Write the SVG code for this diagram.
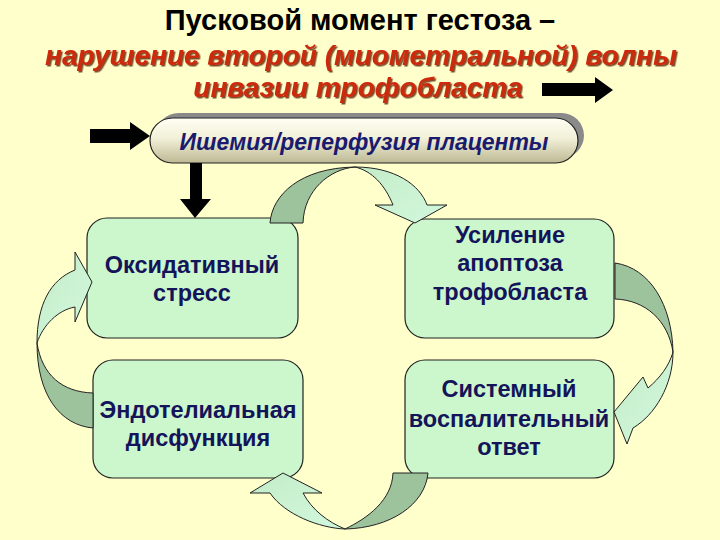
<svg xmlns="http://www.w3.org/2000/svg" width="720" height="540" viewBox="0 0 720 540">
<defs>
<style>
.title{font-family:"Liberation Sans",Arial,sans-serif;font-weight:bold;font-size:29px;fill:#000;text-anchor:middle}
.red{font-family:"Liberation Sans",Arial,sans-serif;font-weight:bold;font-style:italic;font-size:28px;fill:#CC2a10;text-anchor:middle;filter:url(#sh)}
.pilltxt{font-family:"Liberation Sans",Arial,sans-serif;font-weight:bold;font-style:italic;font-size:23px;fill:#1a1a6e;text-anchor:middle}
.box{fill:#CCF7CC;stroke:#222;stroke-width:1.2}
.bt{font-family:"Liberation Sans",Arial,sans-serif;font-weight:bold;font-size:23.5px;fill:#14145a;text-anchor:middle}
.blk{fill:#000}
.dk{fill:#9DC39D;stroke:#222;stroke-width:1}
.lt{fill:url(#lg);stroke:#222;stroke-width:1}
</style>
<filter id="sh" x="-5%" y="-20%" width="110%" height="150%">
<feDropShadow dx="1.5" dy="1.5" stdDeviation="0.6" flood-color="#5a2000" flood-opacity="0.8"/>
</filter>
<linearGradient id="pillg" x1="0" y1="0" x2="0" y2="1">
<stop offset="0" stop-color="#FFFFF4"/>
<stop offset="0.45" stop-color="#F2F0D8"/>
<stop offset="1" stop-color="#BDB994"/>
</linearGradient>
<linearGradient id="lg" x1="0" y1="0" x2="1" y2="1">
<stop offset="0" stop-color="#C4ECC8"/>
<stop offset="1" stop-color="#D2F8DC"/>
</linearGradient>
</defs>
<rect x="0" y="0" width="720" height="540" fill="#FFFFCC"/>

<g id="title">
<text class="title" x="360" y="30">Пусковой момент гестоза –</text>
<text class="red" x="361" y="65">нарушение второй (миометральной) волны</text>
<text class="red" x="358" y="97">инвазии трофобласта</text>
</g>

<g id="pill">
<rect x="156" y="113" width="428" height="45" rx="22.5" fill="#8a8a8a"/>
<rect x="150" y="118" width="428" height="45" rx="22.5" fill="url(#pillg)" stroke="#222" stroke-width="1.2"/>
<text class="pilltxt" x="364" y="150">Ишемия/реперфузия плаценты</text>
</g>

<g id="box1">
<rect class="box" x="87" y="218" width="211" height="120" rx="20"/>
<text class="bt" x="192" y="273">Оксидативный</text>
<text class="bt" x="192" y="301">стресс</text>
</g>
<g id="box2">
<rect class="box" x="405" y="219" width="209" height="119" rx="20"/>
<text class="bt" x="510" y="243">Усиление</text>
<text class="bt" x="510" y="271">апоптоза</text>
<text class="bt" x="510" y="300">трофобласта</text>
</g>
<g id="box3">
<rect class="box" x="93" y="360" width="210" height="118" rx="20"/>
<text class="bt" x="198" y="418">Эндотелиальная</text>
<text class="bt" x="198" y="446">дисфункция</text>
</g>
<g id="box4">
<rect class="box" x="405" y="360" width="209" height="118" rx="20"/>
<text class="bt" x="509" y="397">Системный</text>
<text class="bt" x="509" y="427">воспалительный</text>
<text class="bt" x="509" y="455">ответ</text>
</g>

<g id="connectors">
<path class="blk" d="M542,83 L595,83 L595,77 L613,90 L595,103 L595,96 L542,96 Z"/>
<path class="blk" d="M90,129 L130,129 L130,122 L150,136 L130,150 L130,143 L90,143 Z"/>
<path class="blk" d="M190,163 L202,163 L202,199 L211,199 L195,218 L180,199 L190,199 Z"/>
<path class="dk" d="M270,223 C272,195 300,168 355,167 C330,169 304,190 303,223 Z"/>
<path class="lt" d="M355,167 C395,167 420,185 427,205 L447,205 L415,223 L375,205 L393,205 C385,185 372,171 355,167 Z"/>
<path class="dk" d="M615,263 C650,268 672,305 673,352 C668,320 645,300 615,299 Z"/>
<path class="lt" d="M673,352 C673,385 655,415 633,428 L627,444 L614,412 L643,377 L648,388 C660,378 669,366 673,352 Z"/>
<path class="dk" d="M428,473 C425,505 390,528 345,529 C368,518 392,500 393,473 Z"/>
<path class="lt" d="M345,529 C320,528 285,515 270,493 L250,493 L283,473 L322,493 L303,493 C312,510 328,522 345,529 Z"/>
<path class="dk" d="M93,428 C60,425 37,395 37,343 C42,375 62,392 93,393 Z"/>
<path class="lt" d="M37,343 C37,305 50,280 75,270 L75,252 L92,282 L75,322 L75,307 C58,310 43,325 37,343 Z"/>
</g>
</svg>
